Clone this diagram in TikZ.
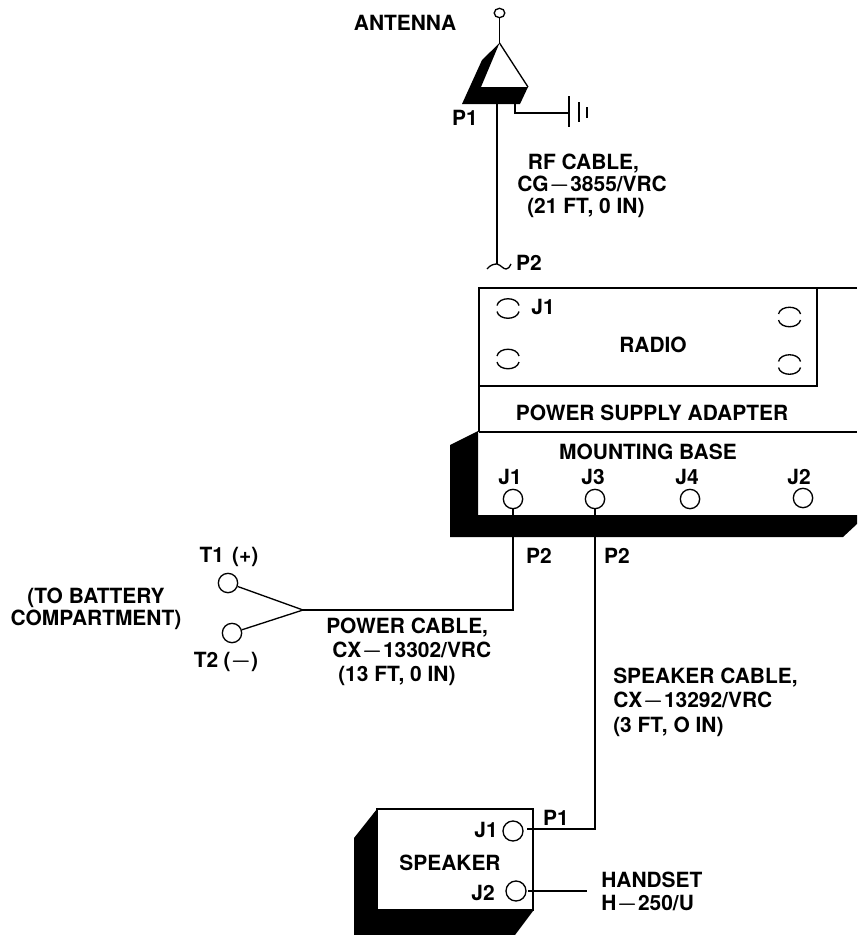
\documentclass[tikz,border=0pt]{standalone}
\usepackage{fontspec}
\setmainfont{TeX Gyre Heros}
\usetikzlibrary{shapes.geometric}
\newcommand{\barsign}{{\fontsize{17}{16}\selectfont\boldmath$-$}}
\newcommand{\dashsign}{\hspace{0.4pt}\barsign\hspace{0.4pt}}
\tikzset{
  wire/.style={line width=1pt},
  thick line/.style={line width=1.2pt},
  jack/.style={circle,draw,line width=1pt,fill=white,inner sep=0pt,minimum size=14.5pt},
  lbl/.style={font=\fontsize{15.7}{16.5}\selectfont\bfseries,inner sep=0pt,align=left},
  lblc/.style={lbl,align=center}
}
\begin{document}
\begin{tikzpicture}[x=0.75pt,y=0.75pt,yscale=-1,xscale=1]
\useasboundingbox (0,0) rectangle (857,935);

%Antenna
\fill (499.5,43) -- (482,60) -- (462,104) -- (520,104) -- (528,87) -- (481,87) -- cycle ;
\draw [wire] (499.5,43) -- (528,87) ;
\node [ellipse,draw,line width=1pt,inner sep=0pt,minimum width=8pt,minimum height=7pt] (antennaTip) at (499.5,13) {};
\coordinate (antennaTop) at (499.5,43);
\draw [wire] (antennaTip) -- (antennaTop) ;

%Ground
\coordinate (groundStart) at (515,104);
\coordinate (groundBar) at (569,113);
\draw [wire] (groundStart) |- (groundBar) ;
\draw [wire] (569,96) -- (569,127) ;
\draw [wire] (579,102) -- (579,122) ;
\draw [wire] (587,107) -- (587,118) ;

%RF cable
\coordinate (rfTop) at (497,104);
\coordinate (rfEnd) at (497,264);
\draw [wire] (rfTop) -- (rfEnd) ;
\draw [wire] (487,269) .. controls (490,265) and (494,264) .. (497,264) .. controls (501,265) and (503,269) .. (506,269) .. controls (508,269) and (510,267) .. (511,264) ;

%Radio and adapter
\draw [thick line] (857,288) -- (479,288) -- (479,432) ;
\draw [wire] (817,288) -- (817,387) ;
\draw [wire] (479,386) -- (817,386) ;
\draw [thick line] (479,432) -- (857,432) ;

%Open sockets
\foreach \x/\y in {508/308.5, 789.5/317, 508/359, 789.5/364.5} {
  \draw [wire] (\x-11,\y-3) .. controls (\x-9,\y-12) and (\x+9,\y-12) .. (\x+11,\y-3) ;
  \draw [wire] (\x-11,\y+3) .. controls (\x-9,\y+12) and (\x+9,\y+12) .. (\x+11,\y+3) ;
}

%Mounting base
\fill (478,431) -- (450,445) -- (450,537) -- (843,537) -- (857,524) -- (857,515) -- (478,515) -- cycle ;
\node [jack] (baseJone) at (513,499) {};
\node [jack] (baseJthree) at (595,499) {};
\node [jack] (baseJfour) at (690,499) {};
\node [jack] (baseJtwo) at (803,498) {};

%Power cable
\coordinate (powerJoin) at (303,610);
\node [jack] (termOne) at (228,583) {};
\node [jack] (termTwo) at (232,633) {};
\draw [wire] (baseJone) |- (powerJoin) ;
\draw [wire] (termOne) -- (powerJoin) ;
\draw [wire] (termTwo) -- (powerJoin) ;

%Speaker
\fill (377,809) -- (354,838) -- (354,935) -- (515,935) -- (533,911) -- (377,910) -- cycle ;
\draw [thick line,fill=white] (377,809) rectangle (533,910) ;
\node [jack,minimum size=15pt] (spkJone) at (513,831) {};
\node [jack,minimum size=15pt] (spkJtwo) at (516,891) {};
\coordinate (spkPone) at (527,829);
\coordinate (handsetEnd) at (587,891);
\coordinate (handsetStart) at (528,891);
\draw [wire] (baseJthree) |- (spkPone) ;
\draw [wire] (handsetStart) -- (handsetEnd) ;

% Text Node
\node [lbl] (antennaLbl) at (405,23) {ANTENNA};
\node [lbl] (pOneLbl) at (465,118) {P1};
\node [lbl,anchor=west] (rfLbl) at (517,186) {\hspace*{8pt}RF CABLE,\\CG\dashsign 3855/VRC\\\hspace*{7.5pt}(21 FT, 0 IN)};
\node [lbl] (pTwoLbl) at (529,263) {P2};
\node [lbl] (radioJLbl) at (543,307) {J1};
\node [lbl] (radioLbl) at (653,345) {RADIO};
\node [lbl] (adapterLbl) at (652,413) {POWER SUPPLY ADAPTER};
\node [lbl] (baseLbl) at (648,452) {MOUNTING BASE};
\node [lbl] (baseJoneLbl) at (510,477) {J1};
\node [lbl] (baseJthreeLbl) at (593,477) {J3};
\node [lbl] (baseJfourLbl) at (687,477) {J4};
\node [lbl] (baseJtwoLbl) at (799,477) {J2};
\node [lbl] (powerPLbl) at (539,556) {P2};
\node [lbl] (speakerPLbl) at (617,556) {P2};
\node [lbl] (termOneLbl) at (229,557) {T1\hspace{6pt}(+)};
\node [lbl] (termTwoLbl) at (226,662) {T2\hspace{4pt}(\barsign)};
\node [lblc] (batteryLbl) at (96,609) {(TO BATTERY\\COMPARTMENT)};
\node [lbl,anchor=west] (powerLbl) at (326,652) {POWER CABLE,\\[1.5pt]\hspace*{4.5pt}CX\dashsign 13302/VRC\\[1.5pt]\hspace*{9pt}(13 FT, 0 IN)};
\node [lbl,anchor=west] (speakerCableLbl) at (613,702) {SPEAKER CABLE,\\[1.8pt]CX\dashsign 13292/VRC\\[1.8pt](3 FT, O IN)};
\node [lbl] (spkPoneLbl) at (556,818) {P1};
\node [lbl] (spkJoneLbl) at (486,830) {J1};
\node [lbl] (spkLbl) at (450,863) {SPEAKER};
\node [lbl] (spkJtwoLbl) at (483,893) {J2};
\node [lbl,anchor=west] (handsetLbl) at (601,893) {HANDSET\\[1pt]H\dashsign 250/U};

\end{tikzpicture}
\end{document}
